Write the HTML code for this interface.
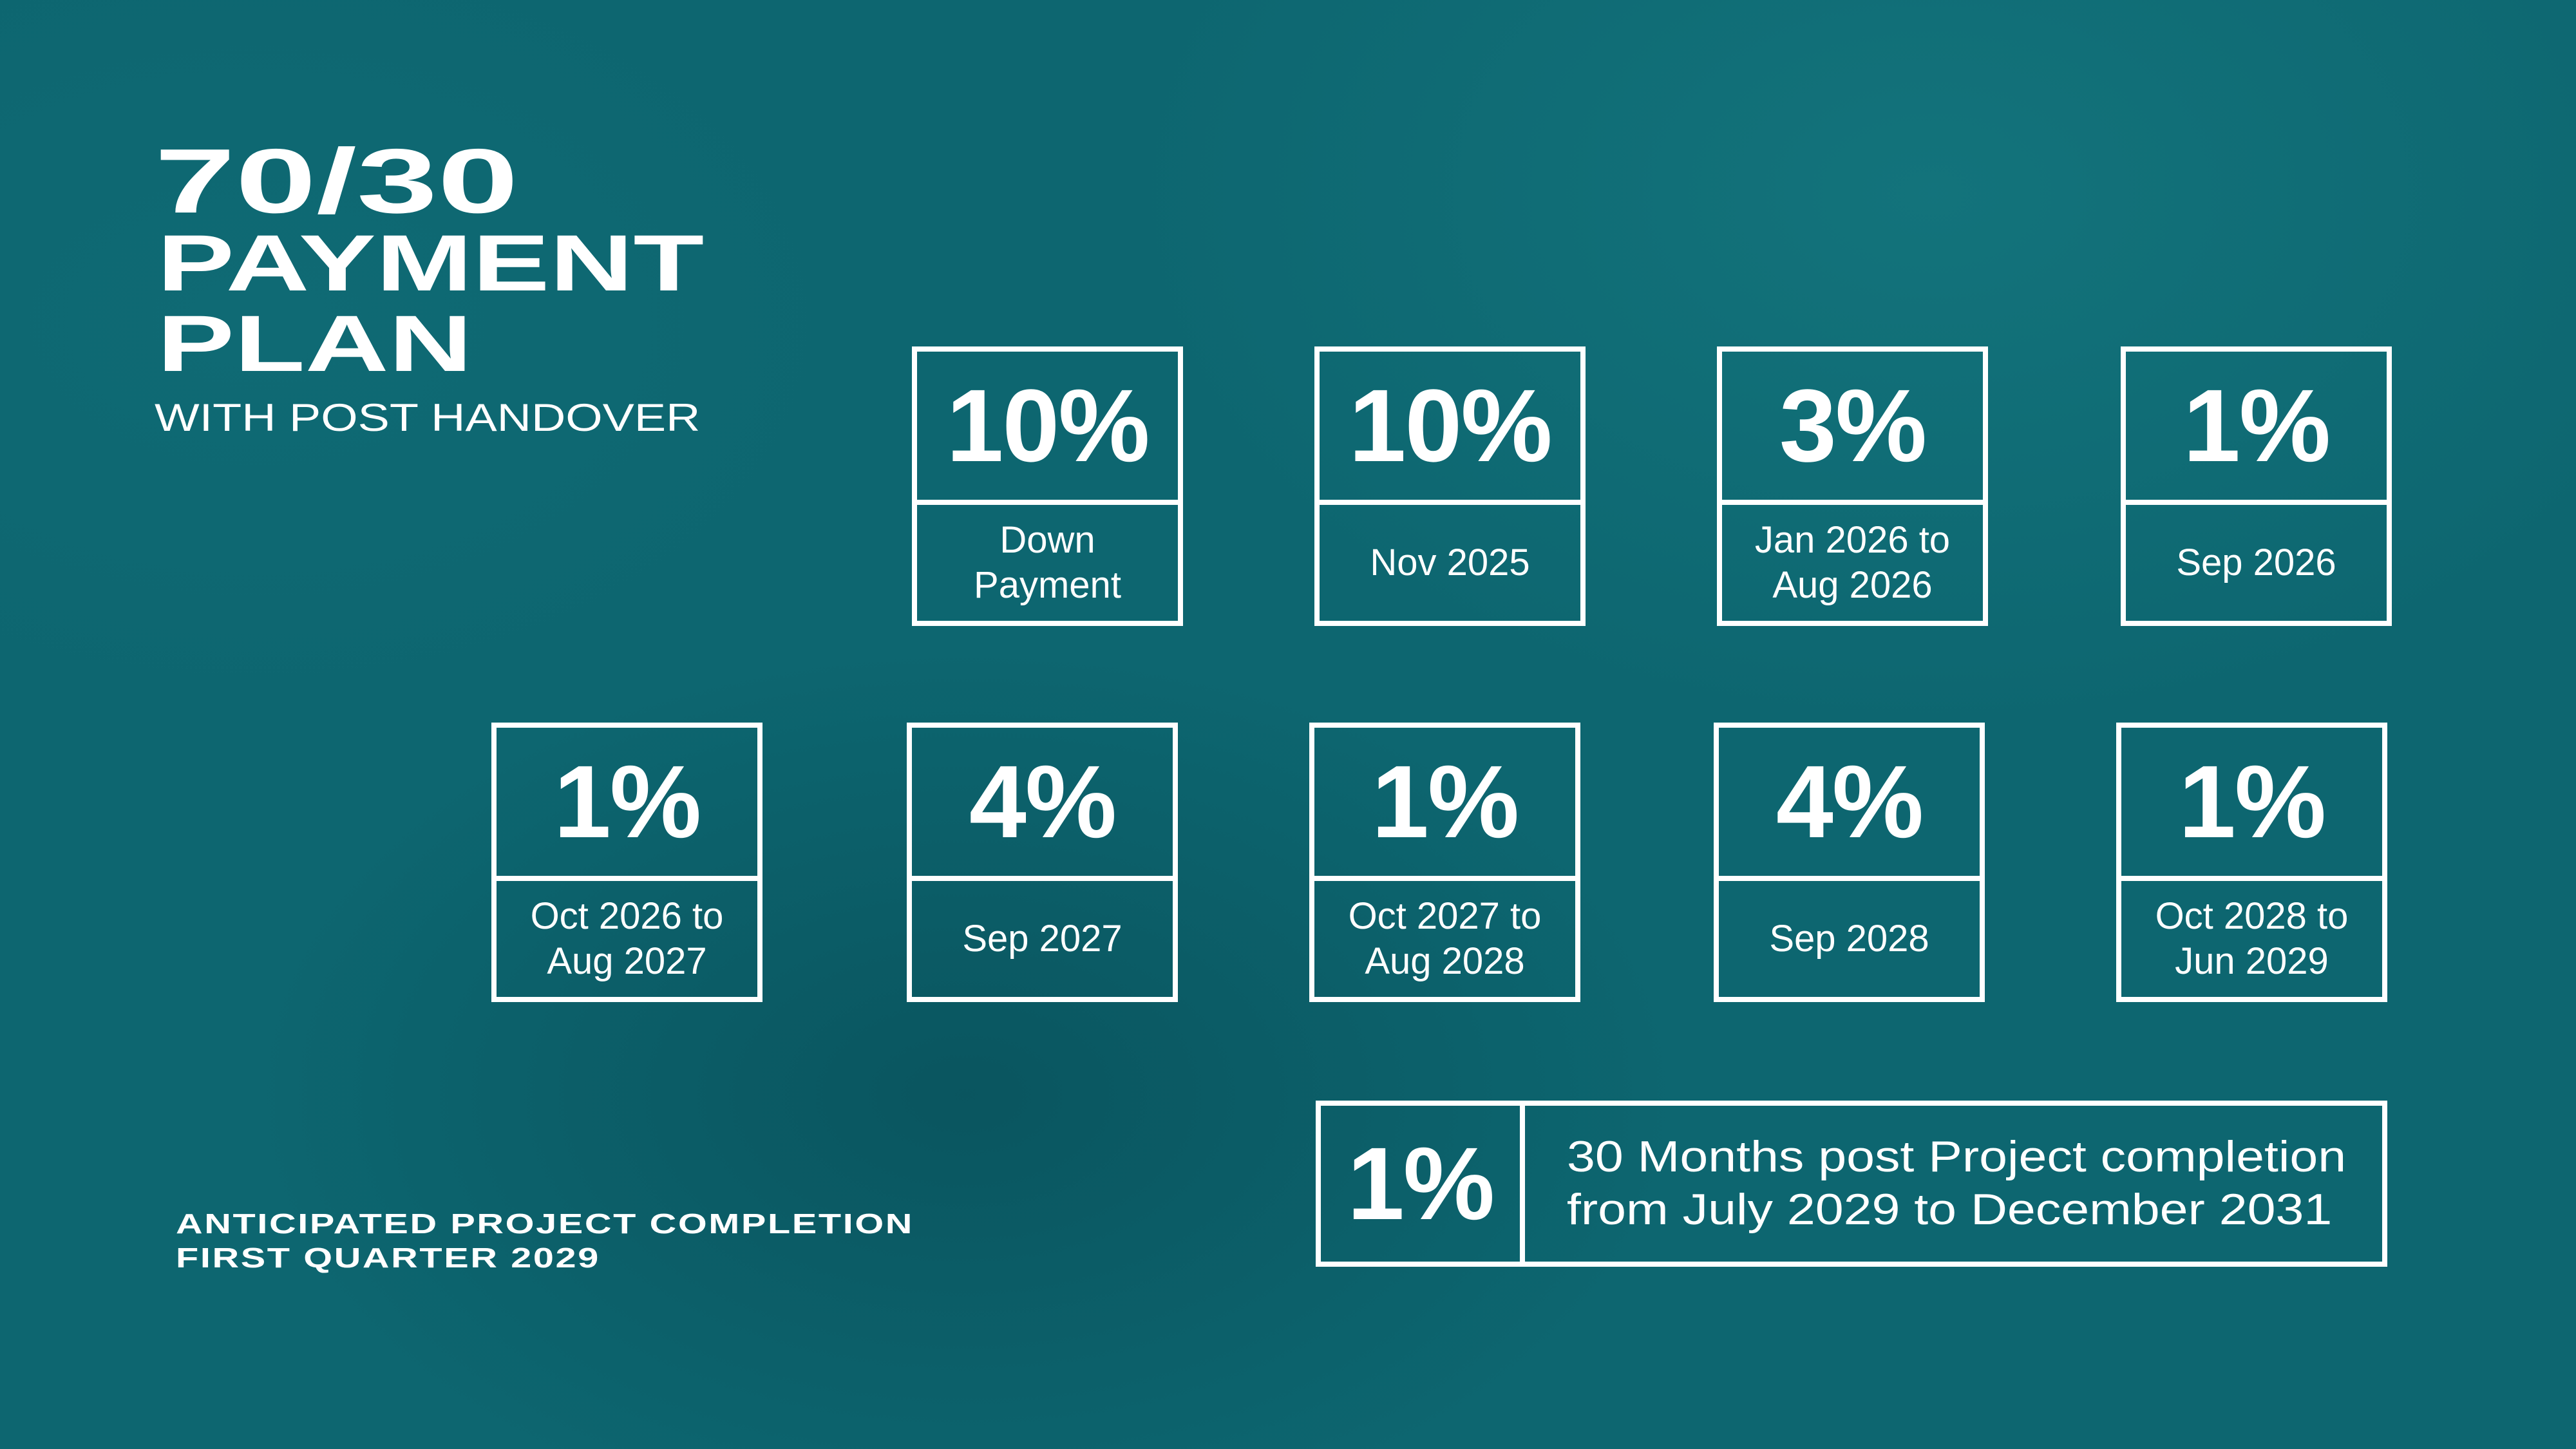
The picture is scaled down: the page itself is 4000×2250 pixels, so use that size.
<!DOCTYPE html>
<html><head><meta charset="utf-8">
<style>
html,body{margin:0;padding:0}
body{width:4000px;height:2250px;position:relative;overflow:hidden;
background:
radial-gradient(ellipse 1800px 1200px at 3000px 300px, rgba(30,140,145,0.35), rgba(30,140,145,0) 70%),
radial-gradient(ellipse 1600px 1000px at 1500px 1700px, rgba(5,60,70,0.4), rgba(5,60,70,0) 70%),
radial-gradient(ellipse 1400px 900px at 400px 500px, rgba(20,115,125,0.3), rgba(20,115,125,0) 70%),
#0d6670;
font-family:"Liberation Sans",sans-serif;color:#fff}
.t{position:absolute;white-space:nowrap;transform-origin:left top;font-weight:bold}
.box{position:absolute;width:405px;height:418px;border:8px solid #fff;box-sizing:content-box}
.box .top{position:absolute;left:0;top:0;width:405px;height:230px;border-bottom:8px solid #fff;
display:flex;align-items:center;justify-content:center;font-weight:bold;font-size:160px;letter-spacing:-2px}
.box .bot{position:absolute;left:0;top:238px;width:405px;height:180px;display:flex;align-items:center;justify-content:center;
text-align:center;font-size:58px;line-height:70px}
</style></head><body>
<div class="t" style="left:240px;top:200px;font-size:142px;transform:scaleX(1.59)">70/30</div>
<div class="t" style="left:244px;top:338px;font-size:124px;transform:scaleX(1.45)">PAYMENT</div>
<div class="t" style="left:244px;top:463px;font-size:124px;transform:scaleX(1.45)">PLAN</div>
<div class="t" style="left:240px;top:614px;font-size:60px;font-weight:normal;transform:scaleX(1.23)">WITH POST HANDOVER</div>
<div class="t" style="left:273px;top:1876px;font-size:44px;transform:scaleX(1.31);letter-spacing:2px">ANTICIPATED PROJECT COMPLETION</div>
<div class="t" style="left:273px;top:1929px;font-size:44px;transform:scaleX(1.31);letter-spacing:2px">FIRST QUARTER 2029</div>

<div class="box" style="left:1416px;top:538px"><div class="top">10%</div><div class="bot">Down<br>Payment</div></div>
<div class="box" style="left:2041px;top:538px"><div class="top">10%</div><div class="bot">Nov 2025</div></div>
<div class="box" style="left:2666px;top:538px"><div class="top">3%</div><div class="bot">Jan 2026 to<br>Aug 2026</div></div>
<div class="box" style="left:3293px;top:538px"><div class="top">1%</div><div class="bot">Sep 2026</div></div>

<div class="box" style="left:763px;top:1122px"><div class="top">1%</div><div class="bot">Oct 2026 to<br>Aug 2027</div></div>
<div class="box" style="left:1408px;top:1122px"><div class="top">4%</div><div class="bot">Sep 2027</div></div>
<div class="box" style="left:2033px;top:1122px"><div class="top">1%</div><div class="bot">Oct 2027 to<br>Aug 2028</div></div>
<div class="box" style="left:2661px;top:1122px"><div class="top">4%</div><div class="bot">Sep 2028</div></div>
<div class="box" style="left:3286px;top:1122px"><div class="top">1%</div><div class="bot">Oct 2028 to<br>Jun 2029</div></div>

<div style="position:absolute;left:2043px;top:1709px;width:1648px;height:242px;border:8px solid #fff">
  <div style="position:absolute;left:0;top:0;width:309px;height:242px;border-right:8px solid #fff;display:flex;align-items:center;justify-content:center;font-weight:bold;font-size:160px;letter-spacing:-2px">1%</div>
  <div style="position:absolute;left:382px;top:38px;font-size:68px;line-height:82px;white-space:nowrap;transform:scaleX(1.16);transform-origin:left top">30 Months post Project completion<br>from July 2029 to December 2031</div>
</div>
</body></html>
